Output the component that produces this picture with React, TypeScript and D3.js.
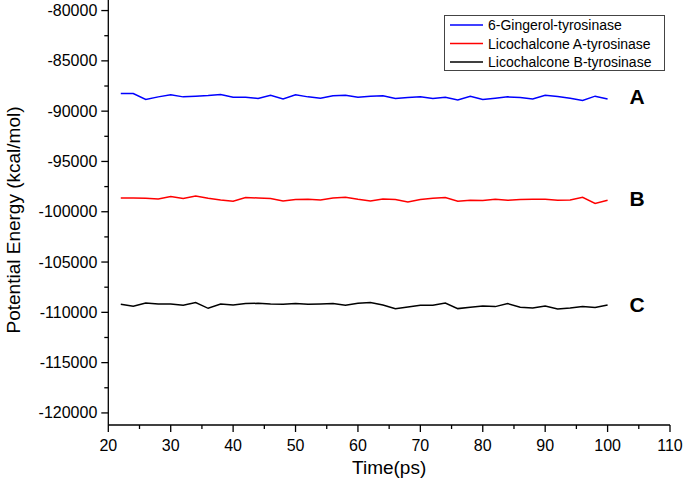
import { useMemo } from 'react'
import * as d3 from 'd3'

const WIDTH = 685
const HEIGHT = 491

// time points (ps)
const times = [
  22, 24, 26, 28, 30, 32, 34, 36, 38, 40, 42, 44, 46, 48, 50, 52, 54, 56, 58, 60,
  62, 64, 66, 68, 70, 72, 74, 76, 78, 80, 82, 84, 86, 88, 90, 92, 94, 96, 98, 100,
]

const gingerol = [
  -88240, -88240, -88840, -88580, -88380, -88580, -88510, -88440, -88340, -88610,
  -88610, -88740, -88410, -88780, -88380, -88580, -88710, -88480, -88410, -88610,
  -88510, -88480, -88740, -88640, -88580, -88740, -88610, -88900, -88510, -88840,
  -88710, -88580, -88640, -88800, -88410, -88540, -88710, -88940, -88510, -88800,
]

const licoA = [
  -98630, -98630, -98660, -98730, -98490, -98690, -98430, -98660, -98830, -98960,
  -98590, -98630, -98690, -98930, -98790, -98760, -98830, -98630, -98560, -98760,
  -98930, -98730, -98790, -99020, -98790, -98660, -98590, -98960, -98860, -98890,
  -98760, -98860, -98790, -98760, -98760, -98860, -98830, -98560, -99180, -98860,
]

const licoB = [
  -109200, -109400, -109070, -109170, -109170, -109300, -109030, -109600, -109170, -109270,
  -109130, -109100, -109170, -109200, -109130, -109200, -109170, -109130, -109300, -109100,
  -109030, -109270, -109650, -109470, -109300, -109300, -109070, -109630, -109500, -109370,
  -109430, -109130, -109500, -109570, -109370, -109670, -109570, -109430, -109530, -109270,
]

const seriesNames = ['6-Gingerol-tyrosinase', 'Licochalcone A-tyrosinase', 'Licochalcone B-tyrosinase']
const seriesColors = ['#0000ff', '#ff0000', '#000000']
const seriesTags = ['A', 'B', 'C']

const xTicks = [20, 30, 40, 50, 60, 70, 80, 90, 100, 110]
const yTicks = [-80000, -85000, -90000, -95000, -100000, -105000, -110000, -115000, -120000]

const FONT = 'Arial, "Liberation Sans", sans-serif'

export default function App() {
  const x = d3.scaleLinear().domain([20, 110]).range([108.3, 670])
  const y = d3.scaleLinear().domain([-121200, -78950]).range([425, 0])

  const series = [gingerol, licoA, licoB]

  const paths = useMemo(() => {
    const line = d3
      .line<number>()
      .x((_, i) => x(times[i]))
      .y((d) => y(d))
    return series.map((s) => line(s) || '')
  }, [])

  const xMinor = d3.range(25, 110, 10)
  const yMinor = d3.range(-82500, -121000, -5000)

  const x0 = x(20)
  const yBottom = y(-121200)

  return (
    <svg
      width={WIDTH}
      height={HEIGHT}
      style={{ position: 'absolute', left: 0, top: 0, background: '#fff' }}
      fontFamily={FONT}
    >
      {/* lines */}
      {paths.map((p, i) => (
        <path key={i} d={p} fill="none" stroke={seriesColors[i]} strokeWidth={1.5} />
      ))}

      {/* series tags */}
      {series.map((s, i) => (
        <text
          key={i}
          x={637}
          y={y(d3.mean(s) as number) + 7}
          textAnchor="middle"
          fontSize={21}
          fontWeight="bold"
        >
          {seriesTags[i]}
        </text>
      ))}

      {/* y axis */}
      <line x1={x0} x2={x0} y1={0} y2={yBottom} stroke="#000" strokeWidth={1.3} />
      {yTicks.map((t) => (
        <g key={t}>
          <line x1={x0 - 7} x2={x0} y1={y(t)} y2={y(t)} stroke="#000" strokeWidth={1.3} />
          <text x={x0 - 11} y={y(t) + 5.5} textAnchor="end" fontSize={16}>
            {t}
          </text>
        </g>
      ))}
      {yMinor.map((t) => (
        <line key={t} x1={x0 - 4} x2={x0} y1={y(t)} y2={y(t)} stroke="#000" strokeWidth={1.3} />
      ))}

      {/* x axis */}
      <line x1={x0} x2={x(110)} y1={yBottom} y2={yBottom} stroke="#000" strokeWidth={1.3} />
      {xTicks.map((t) => (
        <g key={t}>
          <line x1={x(t)} x2={x(t)} y1={yBottom} y2={yBottom + 7} stroke="#000" strokeWidth={1.3} />
          <text x={x(t)} y={yBottom + 26} textAnchor="middle" fontSize={16}>
            {t}
          </text>
        </g>
      ))}
      {xMinor.map((t) => (
        <line key={t} x1={x(t)} x2={x(t)} y1={yBottom} y2={yBottom + 4} stroke="#000" strokeWidth={1.3} />
      ))}

      {/* axis titles */}
      <text x={(x0 + x(110)) / 2} y={474} textAnchor="middle" fontSize={19}>
        Time(ps)
      </text>
      <text transform={`translate(20, 220) rotate(-90)`} textAnchor="middle" fontSize={19}>
        Potential Energy (kcal/mol)
      </text>

      {/* legend */}
      <rect x={444.5} y={15.5} width={220} height={55} fill="#fff" stroke="#444" strokeWidth={1} />
      {seriesNames.map((n, i) => (
        <g key={n} transform={`translate(0, ${25 + i * 18.5})`}>
          <line x1={450} x2={483} y1={0} y2={0} stroke={seriesColors[i]} strokeWidth={1.5} />
          <text x={488} y={5} fontSize={14}>
            {n}
          </text>
        </g>
      ))}
    </svg>
  )
}
